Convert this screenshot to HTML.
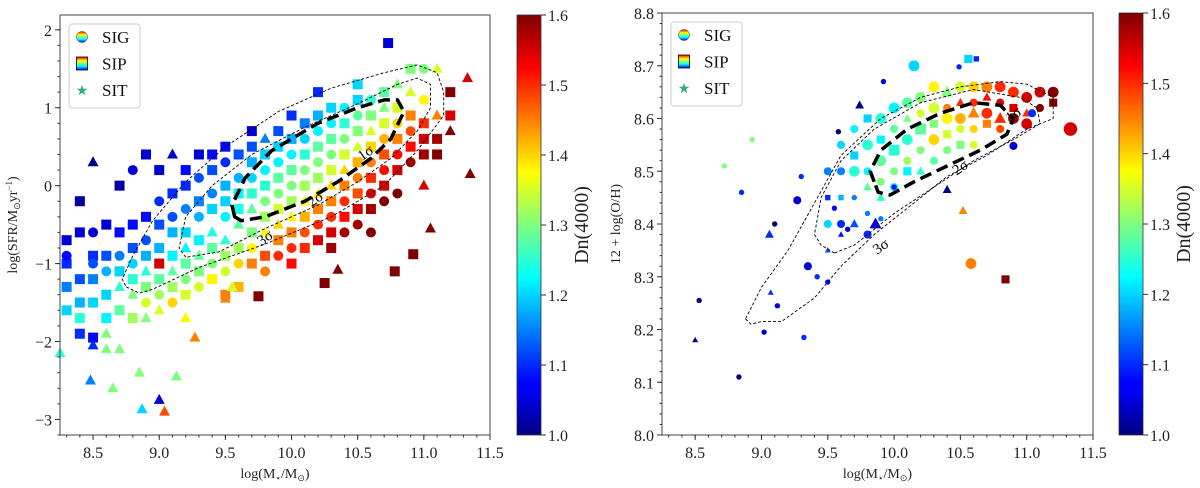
<!DOCTYPE html>
<html><head><meta charset="utf-8">
<style>
body{margin:0;background:#fff;}
svg{display:block;font-family:"Liberation Serif",serif;}
</style></head>
<body>
<svg id="fig" width="1200" height="488" viewBox="0 0 1200 488" xmlns="http://www.w3.org/2000/svg">
<defs>
<linearGradient id="jet" x1="0" y1="1" x2="0" y2="0">
<stop offset="0" stop-color="#00007f"/><stop offset="0.11" stop-color="#0000ff"/><stop offset="0.125" stop-color="#0000ff"/>
<stop offset="0.375" stop-color="#00ffff"/><stop offset="0.5" stop-color="#7fff7f"/><stop offset="0.625" stop-color="#ffff00"/>
<stop offset="0.875" stop-color="#ff0000"/><stop offset="1" stop-color="#7f0000"/></linearGradient>
<linearGradient id="jetv" x1="0" y1="1" x2="0" y2="0">
<stop offset="0" stop-color="#0000ff"/><stop offset="0.3" stop-color="#00ffff"/><stop offset="0.5" stop-color="#7fff7f"/><stop offset="0.7" stop-color="#ffff00"/><stop offset="1" stop-color="#ff0000"/></linearGradient>
</defs>
</svg>
<script>
// ---------- data: left panel (mass, log SFR, Dn4000, type 0=SIG circle 1=SIP square 2=SIT triangle)
const massL=[8.3,8.3,8.3,8.3,8.3,8.4,8.4,8.4,8.4,8.4,8.4,8.5,8.5,8.5,8.5,8.5,8.5,8.5,8.6,8.6,8.6,8.6,8.6,8.6,8.7,8.7,8.7,8.7,8.7,8.7,8.7,8.8,8.8,8.8,8.8,8.8,8.8,8.8,8.9,8.9,8.9,8.9,8.9,8.9,8.9,8.9,9.0,9.0,9.0,9.0,9.0,9.0,9.0,9.0,9.0,9.1,9.1,9.1,9.1,9.1,9.1,9.1,9.1,9.2,9.2,9.2,9.2,9.2,9.2,9.2,9.2,9.2,9.3,9.3,9.3,9.3,9.3,9.3,9.3,9.3,9.4,9.4,9.4,9.4,9.4,9.4,9.4,9.4,9.5,9.5,9.5,9.5,9.5,9.5,9.5,9.5,9.5,9.6,9.6,9.6,9.6,9.6,9.6,9.6,9.6,9.7,9.7,9.7,9.7,9.7,9.7,9.7,9.7,9.7,9.8,9.8,9.8,9.8,9.8,9.8,9.8,9.8,9.8,9.9,9.9,9.9,9.9,9.9,9.9,9.9,9.9,9.9,10.0,10.0,10.0,10.0,10.0,10.0,10.0,10.0,10.0,10.0,10.1,10.1,10.1,10.1,10.1,10.1,10.1,10.1,10.1,10.2,10.2,10.2,10.2,10.2,10.2,10.2,10.2,10.2,10.2,10.3,10.3,10.3,10.3,10.3,10.3,10.3,10.3,10.3,10.3,10.4,10.4,10.4,10.4,10.4,10.4,10.4,10.4,10.4,10.5,10.5,10.5,10.5,10.5,10.5,10.5,10.5,10.5,10.5,10.6,10.6,10.6,10.6,10.6,10.6,10.6,10.6,10.6,10.7,10.7,10.7,10.7,10.7,10.7,10.7,10.7,10.73,10.8,10.8,10.8,10.8,10.8,10.8,10.8,10.9,10.9,10.9,10.9,10.9,10.9,11.0,11.0,11.0,11.0,11.0,11.0,11.1,11.1,11.1,11.1,11.2,11.2,11.2,11.33,11.35,11.05,10.92,10.78,9.75,10.25,10.35,9.27,8.48,8.87,9.0,9.04,8.65,8.85,9.13,8.25,8.5,8.6,9.5,9.55];
const sfrL=[-0.7,-1.0,-1.3,-1.6,-0.9,-0.6,-1.2,-1.5,-1.7,-0.2,-1.9,-0.6,-0.9,-1.2,-1.5,-1.0,0.3,-1.95,-0.5,-0.9,-1.1,-1.4,-1.7,-1.9,-0.6,-0.9,-1.1,-1.3,-1.6,0.0,-2.1,-0.5,-0.8,-1.0,-1.2,-1.4,-1.7,0.2,-0.4,-0.7,-0.9,-1.1,-1.3,-1.5,0.4,-1.7,-0.2,-0.5,-0.8,-1.0,-1.2,-1.4,0.2,-1.0,-1.6,-0.1,-0.4,-0.6,-0.9,-1.1,-1.3,0.4,-1.5,0.0,-0.3,-0.6,-0.8,-1.0,-1.2,0.2,-1.4,-1.7,0.1,-0.2,-0.4,-0.7,-0.9,-1.1,-1.3,0.4,0.2,-0.1,-0.3,-0.6,-0.8,-1.0,-1.2,0.4,0.3,0.0,-0.2,-0.4,-0.7,-0.9,-1.1,0.5,-1.4,0.4,0.1,-0.1,-0.3,-0.5,-0.8,-1.0,-1.3,0.5,0.3,0.1,-0.1,-0.3,-0.6,-0.8,-1.0,0.7,0.6,0.4,0.2,0.0,-0.2,-0.4,-0.6,-0.9,-1.1,0.7,0.5,0.3,0.1,-0.1,-0.3,-0.5,-0.7,-0.9,0.9,0.6,0.4,0.2,0.0,-0.2,-0.4,-0.6,-0.8,-1.0,0.8,0.6,0.4,0.2,0.0,-0.2,-0.4,-0.6,-0.8,0.9,0.7,0.5,0.3,0.1,-0.1,-0.3,-0.5,-0.7,1.2,1.0,0.8,0.6,0.4,0.2,0.0,-0.2,-0.4,-0.6,-0.8,1.0,0.8,0.6,0.4,0.2,0.0,-0.2,-0.4,-0.6,1.1,0.9,0.7,0.5,0.3,0.1,-0.1,-0.3,-0.5,1.3,1.1,0.9,0.7,0.5,0.3,0.1,-0.1,-0.3,-0.6,1.2,1.0,0.8,0.6,0.4,0.2,0.0,-0.2,1.83,1.3,1.0,0.8,0.6,0.4,0.2,-0.1,1.5,1.2,0.9,0.7,0.5,0.3,1.5,1.1,0.8,0.6,0.4,0.0,1.5,0.9,0.6,0.4,1.2,0.9,0.7,1.38,0.15,-0.55,-0.88,-1.1,-1.42,-1.25,-1.08,-1.95,-2.5,-2.87,-2.75,-2.9,-2.6,-2.4,-2.45,-2.15,-2.05,-2.1,-1.45,-1.3];
const dnL=[1.05,1.1,1.15,1.2,1.08,1.05,1.12,1.18,1.25,1.02,1.1,1.05,1.1,1.15,1.2,1.12,1.0,1.08,1.05,1.12,1.18,1.2,1.22,1.3,1.08,1.15,1.2,1.25,1.28,1.02,1.3,1.08,1.12,1.2,1.25,1.3,1.32,1.05,1.08,1.12,1.18,1.25,1.3,1.35,1.05,1.3,1.1,1.12,1.18,1.22,1.28,1.32,1.05,1.55,1.35,1.1,1.12,1.18,1.22,1.28,1.32,1.05,1.4,1.1,1.15,1.2,1.22,1.28,1.3,1.08,1.35,1.38,1.12,1.15,1.18,1.22,1.28,1.3,1.35,1.05,1.12,1.15,1.2,1.24,1.28,1.3,1.38,1.08,1.1,1.18,1.2,1.22,1.25,1.32,1.35,1.08,1.45,1.12,1.18,1.22,1.24,1.28,1.32,1.4,1.42,1.12,1.18,1.2,1.25,1.28,1.3,1.38,1.45,1.05,1.15,1.2,1.22,1.25,1.3,1.32,1.38,1.48,1.45,1.12,1.2,1.22,1.28,1.3,1.35,1.4,1.45,1.5,1.1,1.18,1.22,1.28,1.3,1.32,1.38,1.45,1.5,1.52,1.15,1.2,1.25,1.3,1.32,1.38,1.42,1.48,1.5,1.18,1.22,1.28,1.3,1.32,1.38,1.45,1.5,1.55,1.1,1.2,1.22,1.28,1.3,1.35,1.4,1.45,1.5,1.55,1.58,1.22,1.25,1.3,1.35,1.4,1.45,1.5,1.52,1.58,1.2,1.28,1.3,1.35,1.42,1.45,1.48,1.55,1.58,1.2,1.25,1.3,1.35,1.4,1.45,1.5,1.55,1.58,1.6,1.28,1.3,1.35,1.42,1.48,1.52,1.55,1.6,1.05,1.3,1.35,1.4,1.45,1.52,1.55,1.6,1.3,1.35,1.45,1.48,1.52,1.58,1.3,1.38,1.5,1.55,1.58,1.55,1.35,1.45,1.58,1.6,1.6,1.55,1.6,1.55,1.6,1.6,1.6,1.6,1.6,1.6,1.6,1.45,1.15,1.2,1.05,1.48,1.3,1.3,1.3,1.25,1.1,1.3,1.45,1.35];
const typeL=[1,1,1,1,0,1,1,1,1,1,1,0,1,1,1,0,2,1,1,1,0,1,1,2,1,0,1,2,1,1,2,1,1,0,1,2,1,0,1,0,1,2,1,0,1,2,0,1,1,2,1,0,1,1,2,1,0,1,1,2,1,2,0,1,0,1,2,1,0,1,1,2,0,1,0,1,2,1,0,1,1,0,1,2,1,0,1,1,0,1,1,0,2,1,0,1,1,1,0,1,1,2,1,0,1,1,1,0,1,2,1,0,1,1,2,1,0,1,0,1,2,1,0,1,1,0,1,0,1,2,1,0,1,1,0,1,0,1,2,1,0,1,1,0,1,0,1,2,1,0,1,1,0,1,0,1,2,1,0,1,1,1,0,1,0,1,2,1,0,1,1,0,1,0,1,2,1,0,1,0,1,0,1,2,1,0,1,1,0,1,0,1,2,1,0,1,0,1,0,1,2,1,0,1,0,1,0,1,2,1,0,1,0,1,0,1,2,1,0,1,0,0,0,1,1,1,2,2,2,1,1,1,1,2,2,2,2,1,1,1,1];
// contours left (mass, sfr)
const c3xL=[8.75,8.85,8.95,9.3,9.8,10.3,10.7,10.95,11.15,11.15,11.1,10.95,10.7,10.3,9.9,9.5,9.2,8.95,8.8,8.72];
const c3yL=[-1.3,-1.38,-1.33,-1.05,-0.75,-0.4,0.0,0.45,0.9,1.2,1.45,1.55,1.45,1.25,0.95,0.5,0.05,-0.45,-0.9,-1.2];
const c2xL=[9.2,9.15,9.2,9.4,9.7,10.1,10.5,10.8,10.95,11.05,11.05,10.95,10.75,10.5,10.2,9.8,9.45];
const c2yL=[-0.92,-0.8,-0.4,0.0,0.4,0.75,1.05,1.3,1.38,1.3,1.0,0.7,0.35,0.05,-0.25,-0.55,-0.85];
const c1xL=[9.57,9.55,9.65,9.85,10.2,10.5,10.7,10.8,10.85,10.75,10.6,10.35,10.1,9.8,9.62];
const c1yL=[-0.4,-0.25,0.1,0.45,0.8,1.0,1.1,1.1,0.95,0.6,0.35,0.05,-0.2,-0.4,-0.45];
const xTicks=[8.5,9.0,9.5,10.0,10.5,11.0,11.5];
const xTickLabels=["8.5","9.0","9.5","10.0","10.5","11.0","11.5"];
const yTicksL=[-3,-2,-1,0,1,2];
const yTickLabelsL=["\u22123","\u22122","\u22121","0","1","2"];
// ---------- data: right panel (mass, 12+log(O/H), Dn4000, type)
const massR=[9.5,9.5,9.5,9.5,9.6,9.6,9.6,9.6,9.6,9.7,9.7,9.7,9.7,9.7,9.8,9.8,9.8,9.8,9.8,9.8,9.9,9.9,9.9,9.9,9.9,10.0,10.0,10.0,10.0,10.0,10.1,10.1,10.1,10.1,10.1,10.2,10.2,10.2,10.2,10.2,10.3,10.3,10.3,10.3,10.3,10.4,10.4,10.4,10.4,10.4,10.5,10.5,10.5,10.5,10.5,10.6,10.6,10.6,10.6,10.6,10.7,10.7,10.7,10.7,10.8,10.8,10.8,10.8,10.9,10.9,10.9,11.0,11.0,11.0,11.1,11.1,11.2,11.2,11.33,10.58,10.84,10.52,8.5,8.83,8.53,9.02,9.32,8.85,8.93,8.72,9.27,9.1,9.06,9.07,9.12,9.5,9.42,9.58,9.74,9.92,10.15,10.49,10.56,10.62,10.4,10.9,11.04,9.86,10.0,9.3,9.35,9.55,9.65,9.9];
const ohR=[8.5,8.45,8.4,8.35,8.55,8.5,8.45,8.4,8.38,8.58,8.53,8.5,8.45,8.4,8.6,8.55,8.5,8.47,8.42,8.38,8.6,8.56,8.52,8.48,8.45,8.62,8.58,8.54,8.5,8.47,8.63,8.6,8.56,8.52,8.5,8.64,8.61,8.58,8.54,8.5,8.66,8.62,8.59,8.56,8.52,8.65,8.62,8.6,8.57,8.54,8.66,8.63,8.6,8.58,8.55,8.66,8.63,8.61,8.58,8.55,8.66,8.64,8.61,8.59,8.66,8.63,8.6,8.58,8.65,8.62,8.6,8.64,8.61,8.59,8.65,8.62,8.65,8.63,8.58,8.325,8.295,8.425,8.18,8.11,8.255,8.195,8.185,8.46,8.56,8.51,8.445,8.4,8.38,8.27,8.245,8.29,8.3,8.575,8.625,8.67,8.7,8.698,8.713,8.713,8.465,8.548,8.61,8.4,8.47,8.49,8.32,8.43,8.39,8.41];
const dnR=[1.15,1.1,1.2,1.12,1.2,1.15,1.18,1.1,1.08,1.22,1.2,1.25,1.15,1.12,1.2,1.25,1.22,1.28,1.15,1.1,1.25,1.22,1.28,1.3,1.25,1.22,1.28,1.25,1.3,1.22,1.28,1.3,1.25,1.32,1.22,1.3,1.35,1.28,1.3,1.25,1.38,1.35,1.3,1.4,1.28,1.3,1.45,1.38,1.35,1.3,1.35,1.5,1.42,1.35,1.3,1.4,1.5,1.45,1.4,1.35,1.45,1.52,1.5,1.45,1.5,1.55,1.5,1.48,1.5,1.55,1.58,1.55,1.5,1.55,1.55,1.6,1.6,1.6,1.55,1.45,1.6,1.45,1.0,1.0,1.0,1.05,1.1,1.1,1.3,1.3,1.05,1.0,1.1,1.1,1.05,1.08,1.1,1.0,1.0,1.05,1.2,1.1,1.2,1.1,1.0,1.05,1.1,1.05,1.08,1.1,1.05,1.08,1.05,1.15];
const typeR=[0,1,0,2,0,0,1,0,2,0,1,0,0,2,1,0,0,2,0,0,0,1,0,0,2,0,0,1,0,0,0,2,0,0,1,0,0,1,0,2,0,0,1,0,0,2,0,0,1,0,0,2,0,0,1,0,0,2,0,0,0,2,0,1,0,0,2,0,0,1,0,0,2,0,0,0,0,1,0,0,1,2,2,0,0,0,0,0,0,0,0,0,2,2,0,0,0,0,2,0,0,0,1,1,2,0,0,2,0,0,0,0,0,0];
const sizeR=[3,2,3,2,3,3,2,3,2,3,3,4,2,3,3,4,3,3,2,3,4,3,4,3,3,4,3,4,3,3,4,3,4,3,3,4,3,4,3,3,4,4,3,4,3,4,3,4,3,3,4,3,4,3,3,4,3,4,3,3,4,3,4,3,4,3,4,3,4,3,4,4,3,4,4,3,4,3,5,4,3,3,2,2,2,2,2,2,2,2,3,2,3,2,2,2,2,2,3,2,4,2,3,2,3,3,3,4,2,2,3,2,2,2];
const c3xR=[8.88,8.92,9.0,9.15,9.4,9.6,9.85,10.1,10.4,10.7,11.0,11.2,11.2,11.0,10.8,10.5,10.2,9.9,9.6,9.4,9.2,9.0];
const c3yR=[8.22,8.21,8.215,8.215,8.26,8.32,8.38,8.43,8.49,8.53,8.58,8.6,8.64,8.665,8.67,8.66,8.64,8.6,8.53,8.44,8.35,8.28];
const c2xR=[9.55,9.45,9.4,9.45,9.6,9.85,10.2,10.6,10.95,11.08,11.1,10.9,10.6,10.3,10.0,9.7];
const c2yR=[8.345,8.36,8.38,8.45,8.52,8.58,8.63,8.655,8.64,8.62,8.59,8.56,8.52,8.47,8.42,8.36];
const c1xR=[9.85,9.82,9.9,10.1,10.35,10.6,10.8,10.9,10.85,10.65,10.4,10.15,9.97,9.88];
const c1yR=[8.48,8.5,8.54,8.58,8.61,8.63,8.625,8.6,8.57,8.54,8.51,8.48,8.455,8.46];
const yTicksR=[8.0,8.1,8.2,8.3,8.4,8.5,8.6,8.7,8.8];
const yTickLabelsR=["8.0","8.1","8.2","8.3","8.4","8.5","8.6","8.7","8.8"];
const cbTicks=[1.0,1.1,1.2,1.3,1.4,1.5,1.6];
const cbTickLabels=["1.0","1.1","1.2","1.3","1.4","1.5","1.6"];
const legendNames=["SIG","SIP","SIT"];

const NS="http://www.w3.org/2000/svg";
const svg=document.getElementById('fig');
function mk(tag,attrs,parent){const e=document.createElementNS(NS,tag);for(const k in attrs)e.setAttribute(k,attrs[k]);(parent||svg).appendChild(e);return e;}
function jet(v){let t=(v-1.0)/0.6;t=Math.max(0,Math.min(1,t));
 const c=x=>Math.round(255*Math.max(0,Math.min(1,1.5-Math.abs(4*t-x))));
 return `rgb(${c(3)},${c(2)},${c(1)})`;}
function marker(g,type,x,y,r,fill){let e;
 if(type===0){e=mk('circle',{cx:x,cy:y,r:r,fill:fill},g);}
 else if(type===1){e=mk('rect',{x:x-r,y:y-r,width:2*r,height:2*r,fill:fill},g);}
 else{e=mk('polygon',{points:`${x},${y-r*1.2} ${x-r*1.1},${y+r*0.8} ${x+r*1.1},${y+r*0.8}`,fill:fill},g);}
 return e;}

function panel(o){
 const X=v=>o.x0+(v-o.xmin)/(o.xmax-o.xmin)*(o.x1-o.x0);
 const Y=v=>o.y1-(v-o.ymin)/(o.ymax-o.ymin)*(o.y1-o.y0);
 const g=mk('g',{});
 
 
 const pg=mk('g',{},g);
 
 
 for(let i=0;i<o.px.length;i++){
  const e=marker(pg,o.pt[i],X(o.px[i]),Y(o.py[i]),o.ps?o.ps[i]*1.35:5,jet(o.pd[i]));
  
  
 }
 const cs=[[o.c3x,o.c3y,0.9,'3,2','contour-3sigma'],[o.c2x,o.c2y,0.9,'3,2','contour-2sigma'],[o.c1x,o.c1y,3.5,'12,6','contour-1sigma']];
 cs.forEach(c=>{
  const pts=c[0].map((v,i)=>X(v).toFixed(1)+','+Y(c[1][i]).toFixed(1)).join(' ');
  const e=mk('polygon',{points:pts,fill:'none',stroke:'#000','stroke-width':c[2],'stroke-dasharray':c[3],'stroke-linejoin':'round'},g);
  
  
 });
 o.labels.forEach(l=>{
  const t=mk('text',{x:X(l[0]),y:Y(l[1]),'font-size':15,'text-anchor':'middle',transform:`rotate(-35 ${X(l[0])} ${Y(l[1])})`,fill:'#000'},g);
  t.textContent=l[2];
  
  
 });
 const f=mk('rect',{x:o.x0,y:o.y0,width:o.x1-o.x0,height:o.y1-o.y0,fill:'none',stroke:'#444','stroke-width':1},g);
 
 
 xTicks.forEach((v,i)=>{
  mk('line',{x1:X(v),x2:X(v),y1:o.y1,y2:o.y1+5,stroke:'#333'},g);
  const t=mk('text',{x:X(v),y:o.y1+23,'font-size':16,'text-anchor':'middle',fill:'#222'},g);
  t.textContent=xTickLabels[i];
  
  
 });
 for(let v=8.3;v<11.5;v+=0.1){mk('line',{x1:X(v),x2:X(v),y1:o.y1,y2:o.y1+2.5,stroke:'#333'},g);}
 o.yt.forEach((v,i)=>{
  mk('line',{x1:o.x0-5,x2:o.x0,y1:Y(v),y2:Y(v),stroke:'#333'},g);
  const t=mk('text',{x:o.x0-8,y:Y(v)+6,'font-size':16,'text-anchor':'end',fill:'#222'},g);
  t.textContent=o.ytl[i];
  
  
 });
 for(let v=o.ymin+o.ymin%o.minor;v<=o.ymax;v+=o.minor){mk('line',{x1:o.x0-2.5,x2:o.x0,y1:Y(v),y2:Y(v),stroke:'#333'},g);}
 const xl=mk('text',{x:(o.x0+o.x1)/2,y:478,'font-size':14,'text-anchor':'middle',fill:'#222'},g);
 xl.innerHTML='log(M<tspan font-size="9" dy="3">\u22c6</tspan><tspan dy="-3">/M</tspan><tspan font-size="9" dy="3">\u2299</tspan><tspan dy="-3">)</tspan>';
 
 
 const yl=mk('text',{x:o.ylx,y:(o.y0+o.y1)/2,'font-size':14,'text-anchor':'middle',fill:'#222',transform:`rotate(-90 ${o.ylx} ${(o.y0+o.y1)/2})`},g);
 yl.innerHTML=o.ylabel;
 
 
 const lg=mk('g',{},g);
 
 
 mk('rect',{x:o.x0+9,y:o.y0+9,width:71,height:84,rx:3,fill:'#fff',stroke:'#ccc'},lg);
 legendNames.forEach((n,i)=>{
  const cy=o.y0+22+i*26.5;
  if(i===0)mk('circle',{cx:o.x0+22,cy:cy,r:5.5,fill:'url(#jetv)',stroke:'#224','stroke-width':0.5},lg);
  else if(i===1)mk('rect',{x:o.x0+16.5,y:cy-6.5,width:11,height:13,fill:'url(#jetv)',stroke:'#000','stroke-width':0.8},lg);
  else{const t=mk('text',{x:o.x0+22,y:cy+5,'font-size':14,'text-anchor':'middle',fill:'#3a8'},lg);t.textContent='\u2605';}
  const t=mk('text',{x:o.x0+42,y:cy+6,'font-size':17,fill:'#111'},lg);
  t.textContent=n;
  
  
 });
 const cb=mk('g',{},g);
 
 
 mk('rect',{x:o.cbx,y:o.y0,width:24,height:o.y1-o.y0,fill:'url(#jet)',stroke:'#333','stroke-width':0.8},cb);
 const CY=v=>o.y1-(v-1.0)/0.6*(o.y1-o.y0);
 cbTicks.forEach((v,i)=>{
  mk('line',{x1:o.cbx+24,x2:o.cbx+29,y1:CY(v),y2:CY(v),stroke:'#333'},cb);
  const t=mk('text',{x:o.cbx+31,y:CY(v)+6,'font-size':16,fill:'#222'},cb);
  t.textContent=cbTickLabels[i];
  
  
 });
 const cl=mk('text',{x:o.cbx+71,y:(o.y0+o.y1)/2,'font-size':20,'text-anchor':'middle',fill:'#222',transform:`rotate(-90 ${o.cbx+71} ${(o.y0+o.y1)/2})`},cb);
 cl.textContent='Dn(4000)';
 
 
}

panel({name:'sfr-mass-panel',x0:60,x1:490,y0:15,y1:435,xmin:8.25,xmax:11.5,ymin:-3.2,ymax:2.19,minor:0.2,
 px:massL,py:sfrL,pd:dnL,pt:typeL,c3x:c3xL,c3y:c3yL,c2x:c2xL,c2y:c2yL,c1x:c1xL,c1y:c1yL,
 labels:[[10.58,0.37,'1\u03c3'],[10.2,-0.22,'2\u03c3'],[9.82,-0.72,'3\u03c3']],
 yt:yTicksL,ytl:yTickLabelsL,ylx:17,cbx:517,
 ylabel:'log(SFR/M<tspan font-size="9" dy="3">\u2299</tspan><tspan dy="-3">yr</tspan><tspan font-size="9" dy="-5">\u22121</tspan><tspan dy="5">)</tspan>'});
panel({name:'metallicity-mass-panel',x0:662,x1:1093,y0:13,y1:435,xmin:8.25,xmax:11.5,ymin:8.0,ymax:8.8,minor:0.02,
 px:massR,py:ohR,pd:dnR,pt:typeR,ps:sizeR,c3x:c3xR,c3y:c3yR,c2x:c2xR,c2y:c2yR,c1x:c1xR,c1y:c1yR,
 labels:[[10.92,8.6,'1\u03c3'],[10.52,8.5,'2\u03c3'],[9.92,8.35,'3\u03c3']],
 yt:yTicksR,ytl:yTickLabelsR,ylx:620,cbx:1119,
 ylabel:'12 + log(O/H)'});
</script>
</body></html>
